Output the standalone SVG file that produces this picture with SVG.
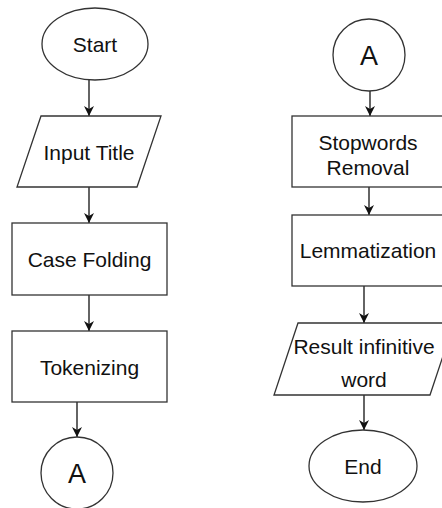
<svg xmlns="http://www.w3.org/2000/svg" width="442" height="508" viewBox="0 0 442 508">
<defs>
<marker id="ah" viewBox="0 0 10 10" refX="10" refY="5" markerWidth="10" markerHeight="10" markerUnits="userSpaceOnUse" orient="auto">
<path d="M0,0 L10,5 L0,10 L3,5 Z" fill="#111"/>
</marker>
<style>
.s{fill:#fff;stroke:#333;stroke-width:1.3}
.t{font-family:"Liberation Sans",Arial,sans-serif;font-size:21px;fill:#111;text-anchor:middle}
.b{font-family:"Liberation Sans",Arial,sans-serif;font-size:27px;fill:#111;text-anchor:middle}
.c{fill:none;stroke:#111;stroke-width:1.3;marker-end:url(#ah)}
</style>
</defs>
<rect width="442" height="508" fill="#fff"/>
<g id="connectors">
<line class="c" x1="89" y1="80" x2="89" y2="116"/>
<line class="c" x1="89" y1="187" x2="89" y2="223"/>
<line class="c" x1="89" y1="295" x2="89" y2="331"/>
<line class="c" x1="77" y1="402" x2="77" y2="437"/>
<line class="c" x1="370" y1="91" x2="370" y2="116"/>
<line class="c" x1="369" y1="187" x2="369" y2="215"/>
<line class="c" x1="364" y1="286" x2="364" y2="323"/>
<line class="c" x1="364" y1="395" x2="364" y2="430"/>
</g>
<g id="start">
<ellipse class="s" cx="95" cy="44" rx="53" ry="36"/>
<text class="t" x="95" y="51.5">Start</text>
</g>
<g id="input">
<polygon class="s" points="41,116 161,116 137,187 17,187"/>
<text class="t" x="89" y="159.5">Input Title</text>
</g>
<g id="casefolding">
<rect class="s" x="12" y="223" width="155" height="72"/>
<text class="t" x="89.5" y="266.5">Case Folding</text>
</g>
<g id="tokenizing">
<rect class="s" x="12" y="331" width="155" height="71"/>
<text class="t" x="89.5" y="374.5">Tokenizing</text>
</g>
<g id="connA1">
<circle class="s" cx="77" cy="473" r="36"/>
<text class="b" x="77" y="482.5">A</text>
</g>
<g id="connA2">
<circle class="s" cx="369" cy="55" r="36"/>
<text class="b" x="369" y="64.5">A</text>
</g>
<g id="stopwords">
<rect class="s" x="292" y="116" width="155" height="71"/>
<text class="t" x="368" y="149.5">Stopwords</text>
<text class="t" x="368" y="174.5">Removal</text>
</g>
<g id="lemmatization">
<rect class="s" x="292" y="215" width="155" height="71"/>
<text class="t" x="368" y="257.5">Lemmatization</text>
</g>
<g id="result">
<polygon class="s" points="298,323 454,323 430,395 274,395"/>
<text class="t" x="364" y="353.5">Result infinitive</text>
<text class="t" x="364" y="386.5">word</text>
</g>
<g id="end">
<ellipse class="s" cx="363" cy="466" rx="54" ry="36"/>
<text class="t" x="363" y="473.5">End</text>
</g>
</svg>
